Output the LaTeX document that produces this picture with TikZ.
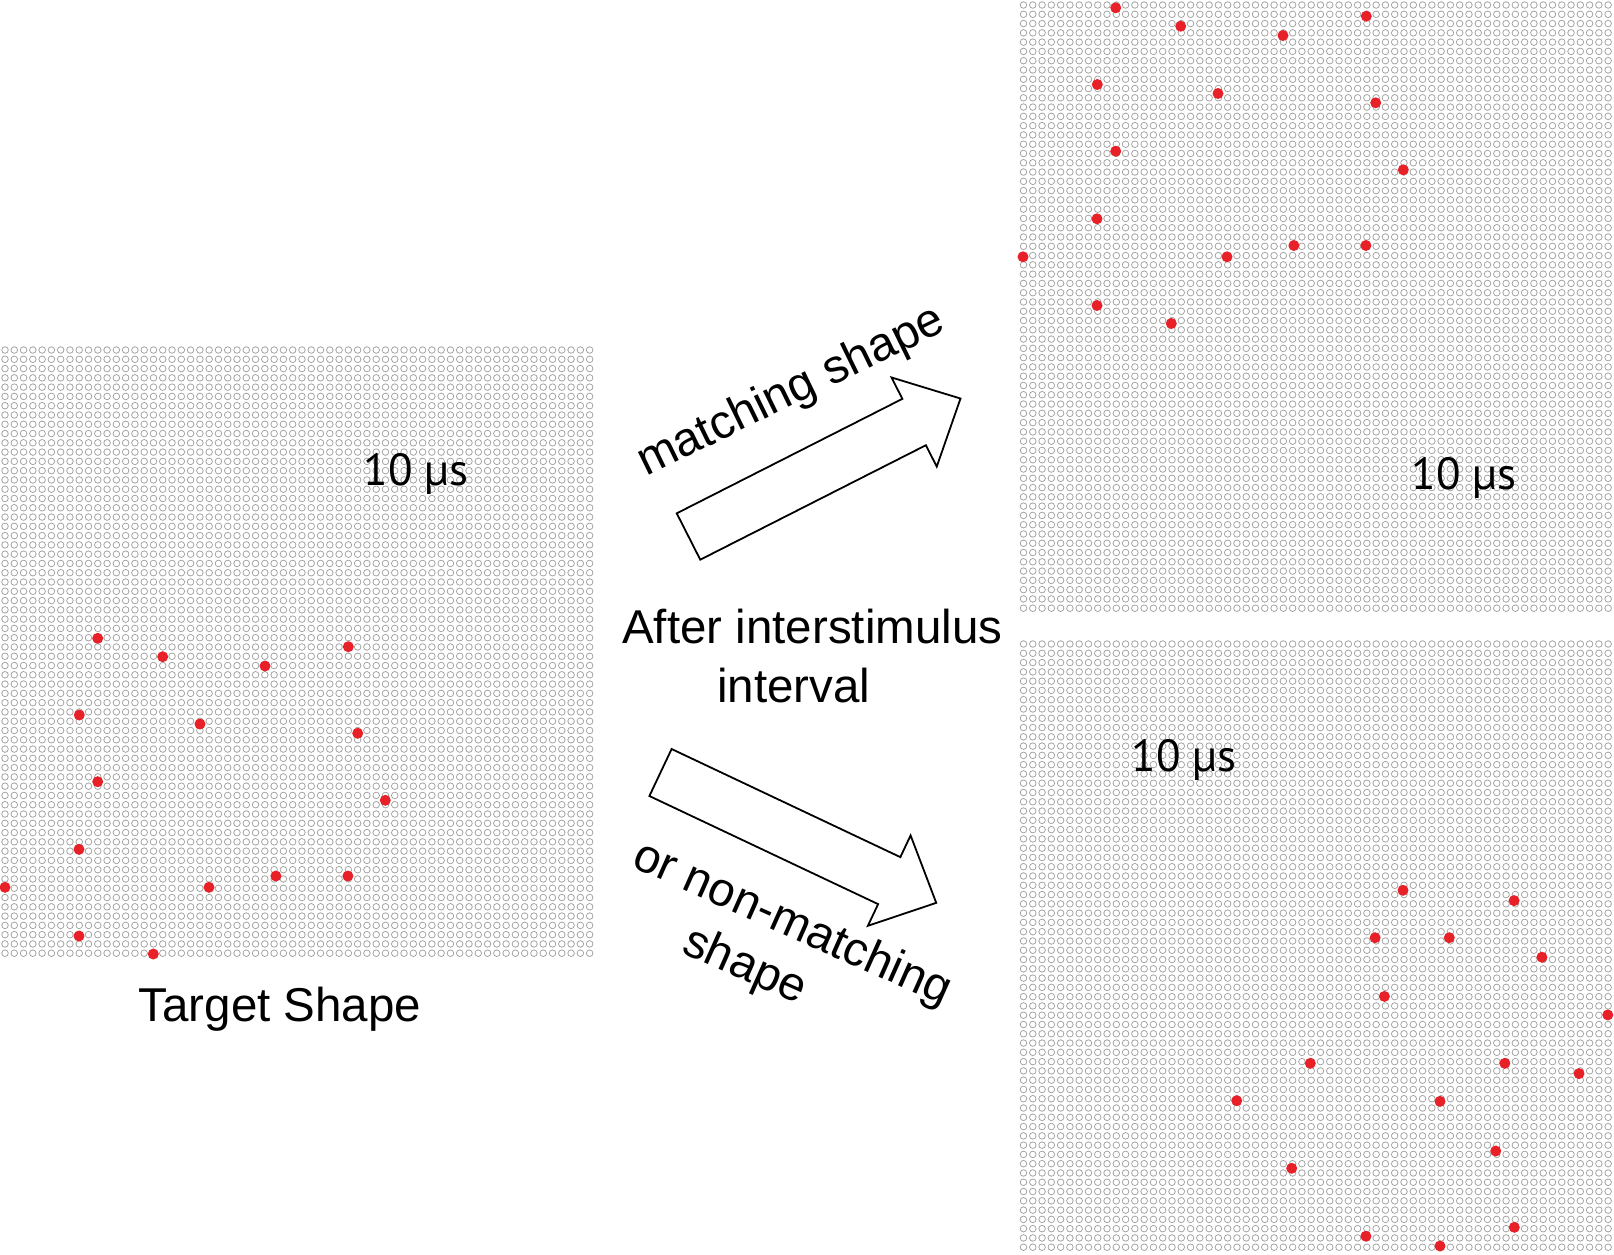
\documentclass[tikz,border=0pt]{standalone}
\usepackage{fontspec}
\setmainfont{Liberation Sans}
\newfontfamily\usfont{PT Sans}
\definecolor{ringgray}{RGB}{160,160,160}
\definecolor{dotred}{RGB}{232,32,40}
\tikzset{
  ringout/.style={draw=ringgray, line width=7.4pt, line cap=round, dash pattern=on 0pt off 9.28pt},
  ringin/.style={draw=white, line width=5.5pt, line cap=round, dash pattern=on 0pt off 9.28pt},
  reddot/.style={fill=dotred},
  bigarrow/.style={draw=black, line width=1.8pt, fill=white, line join=miter},
  lbl/.style={font=\fontsize{47.5}{54}\selectfont, inner sep=0pt},
  uslbl/.style={font=\usfont\fontsize{45}{54}\selectfont, inner sep=0pt},
}
\begin{document}
\begin{tikzpicture}[x=1pt,y=-1pt]
\useasboundingbox (0,0) rectangle (1614,1254);
\fill[white] (0,0) rectangle (1614,1254);

% ring grids (64 x 66 rings each)
\foreach \gx/\gy in {5/350,1023.5/5,1023.5/644}{
  \foreach \j in {0,...,65}{
    \draw[ringout] ({\gx},{\gy+\j*9.28}) -- ({\gx+63*9.28+0.5},{\gy+\j*9.28});
    \draw[ringin] ({\gx},{\gy+\j*9.28}) -- ({\gx+63*9.28+0.5},{\gy+\j*9.28});
  }
}

% target / matching dot pattern
\foreach \ox/\oy in {0/0,1018/-630.5}{
  \foreach \px/\py in {97.7/638.3,162.7/656.7,265/666,348.3/646.7,79.3/715,200/724,357.7/733.3,97.7/781.7,385.3/800.3,79/849.3,5/887.3,209/887.3,275.9/876,347.9/876,79/936,153.3/954}{
    \fill[reddot] ({\ox+\px},{\oy+\py}) circle[radius=5.5];
  }
}
% non-matching dot pattern
\foreach \px/\py in {1403/890.3,1514.1/900.6,1375.1/937.7,1449.3/937.7,1541.9/957.2,1384.4/996.4,1607.8/1014.9,1310.3/1063.3,1504.8/1063.3,1579/1073.6,1236.7/1100.7,1440/1101.4,1495.7/1151,1291.7/1168.3,1365.9/1236.2,1440/1246,1514.3/1227.3}{
  \fill[reddot] (\px,\py) circle[radius=5.5];
}

% labels
\node[uslbl, anchor=base] (tA) at (416,485) {10 µs};
\node[uslbl, anchor=base] (tB) at (1464,489) {10 µs};
\node[uslbl, anchor=base] (tC) at (1184,771) {10 µs};
\node[lbl, anchor=base] (target) at (280,1021) {Target Shape};
\node[lbl, anchor=base west] (after1) at (622,643) {After interstimulus};
\node[lbl, anchor=base west] (after2) at (717,702) {interval};
\node[lbl, anchor=base west, rotate=26] (match) at (646,477) {matching shape};
\node[lbl, anchor=base west, rotate=-24] (nonmatch1) at (630,866) {or non-matching};
\node[lbl, anchor=base west, rotate=-24] (nonmatch2) at (680,952) {shape};

% block arrows
\begin{scope}[shift={(688.5,536.5)}, rotate=26.9]
\draw[bigarrow] (0,26) -- (253,26) -- (253,50) -- (305,0) -- (253,-50) -- (253,-26) -- (0,-26) -- cycle;
\end{scope}
\begin{scope}[shift={(660.5,772.5)}, rotate=-25.3]
\draw[bigarrow] (0,26) -- (253,26) -- (253,50) -- (305,0) -- (253,-50) -- (253,-26) -- (0,-26) -- cycle;
\end{scope}
\end{tikzpicture}
\end{document}
